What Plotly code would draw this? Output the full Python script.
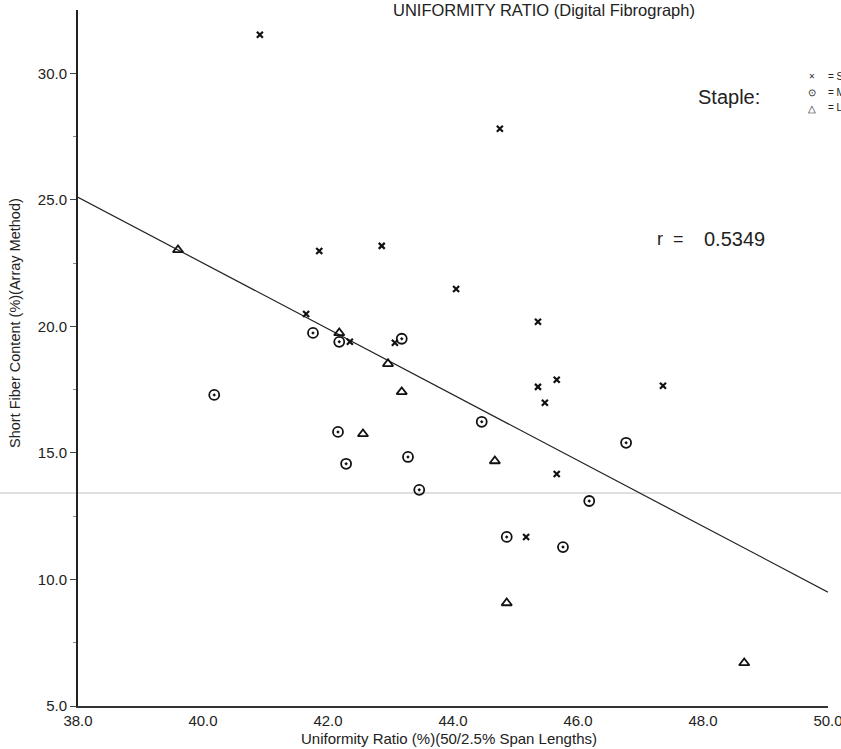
import plotly.graph_objects as go

# ---- data ----
short_x = [40.91, 44.75, 41.86, 42.86, 44.05, 41.65, 45.36, 42.35, 43.07, 45.36, 45.66, 45.47, 47.36, 45.66, 45.17]
short_y = [31.52, 27.81, 22.98, 23.18, 21.48, 20.49, 20.18, 19.39, 19.35, 17.61, 17.89, 16.98, 17.65, 14.17, 11.68]

medium_x = [40.18, 41.76, 42.18, 43.18, 44.46, 42.16, 42.29, 43.28, 43.46, 46.77, 46.18, 44.86, 45.76]
medium_y = [17.29, 19.74, 19.39, 19.51, 16.23, 15.83, 14.57, 14.84, 13.54, 15.40, 13.10, 11.68, 11.28]

long_x = [39.60, 42.18, 42.96, 43.18, 42.56, 44.67, 44.86, 48.66]
long_y = [23.02, 19.74, 18.52, 17.41, 15.75, 14.68, 9.07, 6.70]

fit_x = [38.0, 50.0]
fit_y = [25.1, 9.5]

x_ticks = [38.0, 40.0, 42.0, 44.0, 46.0, 48.0, 50.0]
y_ticks = [5.0, 10.0, 15.0, 20.0, 25.0, 30.0]

W, H = 841, 749
L, R, T, B = 78, 13, 10, 43
pw, ph = W - L - R, H - T - B

SANS = "Liberation Sans, Arial, sans-serif"
NARROW = "Liberation Sans Narrow, Arial Narrow, Liberation Sans, sans-serif"


def px(x):
    return (x - L) / pw


def py(y):
    return (H - B - y) / ph


fig = go.Figure()

fig.add_trace(go.Scatter(x=fit_x, y=fit_y, mode="lines",
                         line=dict(color="#222", width=1.2), showlegend=False, hoverinfo="skip"))
fig.add_trace(go.Scatter(x=short_x, y=short_y, mode="markers", name="Short",
                         marker=dict(symbol="x-thin-open", size=6, color="#111",
                                     line=dict(color="#111", width=2.2)),
                         showlegend=False))
fig.add_trace(go.Scatter(x=medium_x, y=medium_y, mode="markers", name="Medium",
                         marker=dict(symbol="circle-open-dot", size=10, color="#111",
                                     line=dict(color="#111", width=1.8)),
                         showlegend=False))
fig.add_trace(go.Scatter(x=long_x, y=long_y, mode="markers", name="Long",
                         marker=dict(symbol="triangle-up-open", size=9, color="#111",
                                     line=dict(color="#111", width=1.8)),
                         showlegend=False))

# scan artifact line
fig.add_shape(type="line", xref="paper", yref="y", x0=px(0), x1=px(W), y0=13.42, y1=13.42,
              line=dict(color="#d4d4d4", width=1.5), layer="below")

ann = []
ann.append(dict(text="UNIFORMITY RATIO (Digital Fibrograph)", x=px(544), y=py(10),
                font=dict(size=16.5, color="#222", family=SANS)))
ann.append(dict(text="Staple:", x=px(729), y=py(97),
                font=dict(size=20, color="#222", family=SANS)))
for sym, lab, yy, fs in [("×", "= Short", 76, 10), ("⊙", "= Medium", 92, 10), ("△", "= Long", 108, 10)]:
    ann.append(dict(text=sym, x=px(812), y=py(yy), font=dict(size=fs, color="#222")))
    ann.append(dict(text=lab, x=px(826), y=py(yy), xanchor="left",
                    font=dict(size=10, color="#222", family=SANS)))
ann.append(dict(text="r  =", x=px(655), y=py(239), xanchor="left",
                font=dict(size=18, color="#222", family=SANS)))
ann.append(dict(text="0.5349", x=px(702), y=py(239), xanchor="left",
                font=dict(size=20, color="#222", family=SANS)))
ann.append(dict(text="Short Fiber Content (%)(Array Method)", x=px(15), y=py(323), textangle=-90,
                font=dict(size=14.5, color="#222", family=SANS)))
ann.append(dict(text="Uniformity Ratio (%)(50/2.5% Span Lengths)", x=px(449), y=py(739),
                font=dict(size=15, color="#222", family=NARROW)))
for a in ann:
    a.setdefault("xref", "paper")
    a.setdefault("yref", "paper")
    a.setdefault("showarrow", False)
    a.setdefault("xanchor", "center")
    a.setdefault("yanchor", "middle")
    fig.add_annotation(**a)

fig.update_xaxes(range=[38, 50.0005], tickvals=x_ticks, ticktext=[f"{v:.1f}" for v in x_ticks],
                 showgrid=False, zeroline=False, showline=True, linecolor="#333", linewidth=1.5,
                 ticks="", ticklabeloverflow="allow", automargin=False,
                 tickfont=dict(size=15, color="#222", family=NARROW))
fig.update_yaxes(range=[5, 32.5], tickvals=y_ticks, ticktext=[f"{v:.1f}" for v in y_ticks],
                 showgrid=False, zeroline=False, showline=True, linecolor="#222", linewidth=2,
                 ticks="outside", ticklen=6, tickcolor="#444", tickwidth=1, automargin=False,
                 minor=dict(tickvals=[7.5, 12.5, 17.5, 22.5, 27.5], ticks="outside", ticklen=3,
                            tickcolor="#888", tickwidth=1),
                 tickfont=dict(size=15, color="#222", family=SANS))

fig.update_layout(width=W, height=H, margin=dict(l=L, r=R, t=T, b=B, autoexpand=False),
                  plot_bgcolor="white", paper_bgcolor="white", showlegend=False)

fig.write_html("out.html", config={"displayModeBar": False},
               post_script="document.body.style.margin='0';document.body.style.overflow='hidden';")
